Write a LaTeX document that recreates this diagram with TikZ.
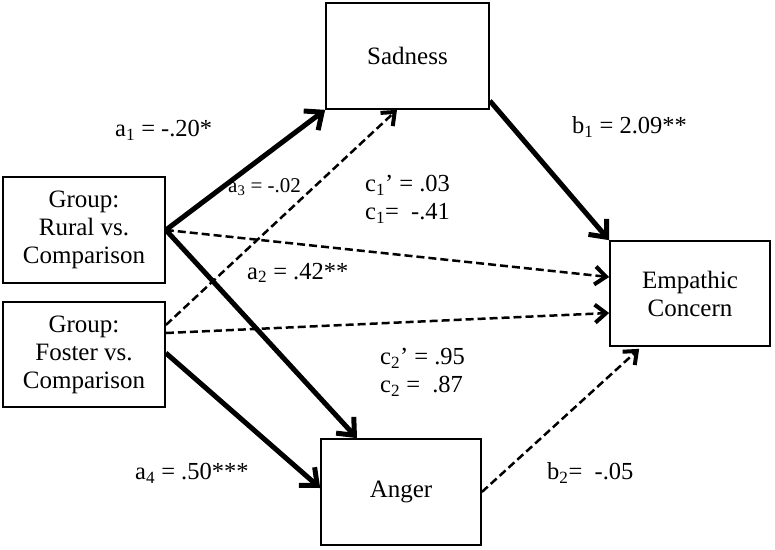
\documentclass[tikz,border=0pt]{standalone}
\usepackage{fontspec}
\setmainfont{Liberation Serif}
\usetikzlibrary{arrows.meta,calc}
\begin{document}
\begin{tikzpicture}[x=1pt,y=-1pt,
  box/.style={draw,line width=1.7pt,minimum width=160pt,minimum height=105pt,inner sep=0pt,align=center,font=\fontsize{25}{28}\selectfont},
  lbl/.style={anchor=west,inner sep=0pt,align=left,font=\fontsize{24.5}{28}\selectfont},
  lblsmall/.style={anchor=west,inner sep=0pt,font=\fontsize{21}{25}\selectfont},
  strong/.style={line width=5pt,-{Straight Barb[length=14pt,width=24pt,line width=5pt]}},
  weak/.style={line width=2.5pt,dash pattern=on 8pt off 4pt,-{Straight Barb[length=11pt,width=18pt,line width=4pt]}}
]
\useasboundingbox (0,0) rectangle (775,549);
\node[box,minimum width=162pt,minimum height=106pt] (rural) at (84,230) {Group:\\Rural vs.\\Comparison};
\node[box,minimum width=162pt] (foster) at (84,354.5) {Group:\\Foster vs.\\Comparison};
\node[box,minimum width=163pt,minimum height=106pt] (sad) at (407.5,56) {Sadness};
\node[box] (emp) at (690,293.5) {Empathic\\Concern};
\node[box,minimum height=106pt] (anger) at (401,492) {Anger};

\coordinate (fs1) at ([yshift=29.5pt]foster.east);
\coordinate (fs2) at ([yshift=21.5pt]foster.east);
\coordinate (fs3) at ([yshift=1.5pt]foster.east);
\coordinate (sadin) at ([xshift=-10.5pt]sad.south);
\coordinate (sadout) at ([yshift=9pt]sad.south east);
\coordinate (emp1) at ([yshift=16.5pt]emp.west);
\coordinate (emp2) at ([yshift=-19.5pt]emp.west);
\coordinate (emp3) at ([xshift=30pt,yshift=-2pt]emp.south west);
\coordinate (angin) at ([xshift=-44pt]anger.north);
\coordinate (angw) at ([yshift=4pt]anger.west);

\draw[strong] (rural.east) -- (sad.south west);
\draw[strong] (rural.east) -- (angin);
\draw[weak] (rural.east) -- (emp1);
\draw[weak] (fs1) -- (sadin);
\draw[weak] (fs2) -- (emp2);
\draw[strong] (fs3) -- (angw);
\draw[strong] (sadout) -- (emp.north west);
\draw[weak] (anger.east) -- (emp3);

\node[lbl] (la1) at (115,130) {a\textsubscript{1} = -.20*};
\node[lblsmall] (la3) at (228,187) {a\textsubscript{3} = -.02};
\node[lbl] (lc1) at (365,199) {c\textsubscript{1}’ = .03\\c\textsubscript{1}=\ \ -.41};
\node[lbl] (la2) at (247,273) {a\textsubscript{2} = .42**};
\node[lbl] (lb1) at (572,127) {b\textsubscript{1} = 2.09**};
\node[lbl] (lc2) at (380,372) {c\textsubscript{2}’ = .95\\c\textsubscript{2} =\ \ .87};
\node[lbl] (la4) at (135,473) {a\textsubscript{4} = .50***};
\node[lbl] (lb2) at (547,473) {b\textsubscript{2}=\ \ -.05};
\end{tikzpicture}
\end{document}
